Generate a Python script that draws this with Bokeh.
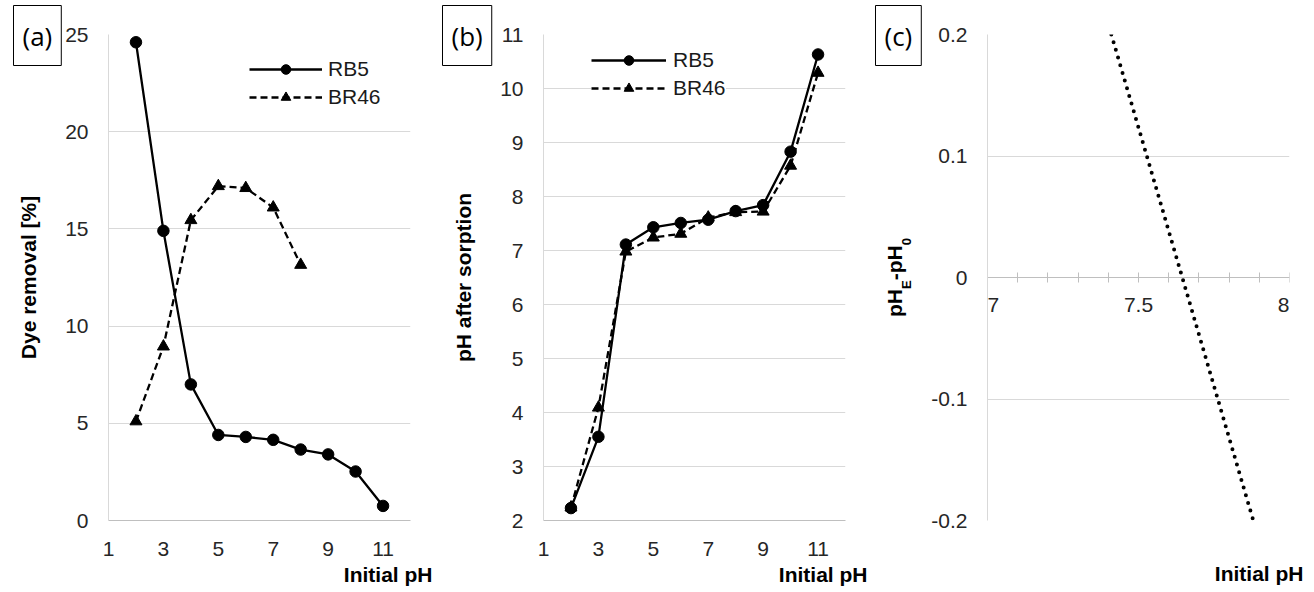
import math
from bokeh.plotting import figure
from bokeh.layouts import row
from bokeh.models import (Range1d, Label, Title, FixedTicker, NumeralTickFormatter,
                          LinearAxis, CustomJSTickFormatter)
from bokeh.embed import file_html
from bokeh.resources import INLINE

# ---------------- data ----------------
ph_initial = [2, 3, 4, 5, 6, 7, 8, 9, 10, 11]
rb5_removal = [24.6, 14.9, 7.0, 4.4, 4.3, 4.15, 3.65, 3.4, 2.52, 0.75]
br46_ph_initial = [2, 3, 4, 5, 6, 7, 8]
br46_removal = [5.1, 8.95, 15.45, 17.2, 17.1, 16.1, 13.15]

rb5_ph_after = [2.23, 3.55, 7.11, 7.43, 7.51, 7.57, 7.73, 7.84, 8.83, 10.63]
br46_ph_after = [2.24, 4.09, 6.98, 7.24, 7.31, 7.61, 7.71, 7.72, 8.57, 10.29]

pzc_ph = [7.41, 7.88]
pzc_diff = [0.2, -0.2]

x_ticks_ab = [1, 3, 5, 7, 9, 11]
y_ticks_a = [0, 5, 10, 15, 20, 25]
y_ticks_b = [2, 3, 4, 5, 6, 7, 8, 9, 10, 11]
x_ticks_c = [7, 7.5, 8]
x_tick_labels_c = ["7", "7.5", "8"]
x_minor_c = [7.1, 7.2, 7.3, 7.4, 7.6, 7.7, 7.8, 7.9]
y_ticks_c = [-0.2, -0.1, 0, 0.1, 0.2]

FONT = "Liberation Sans"
TICK_SIZE = "21px"
LABEL_SIZE = "21px"
GRID = "#d9d9d9"
AXIS = "#bfbfbf"
TICK_COLOR = "#262626"


def base_fig(x_range, y_range, left, right):
    p = figure(frame_width=302, frame_height=486,
               min_border_left=left, min_border_right=right,
               min_border_top=34, min_border_bottom=72,
               x_range=x_range, y_range=y_range,
               output_backend="svg", toolbar_location=None)
    p.outline_line_color = None
    p.background_fill_color = "white"
    p.border_fill_color = "white"
    p.xgrid.visible = False
    p.ygrid.grid_line_color = GRID
    p.ygrid.grid_line_width = 1
    for ax in (p.xaxis, p.yaxis):
        ax.major_label_text_font = FONT
        ax.major_label_text_font_size = TICK_SIZE
        ax.major_label_text_color = TICK_COLOR
        ax.major_tick_in = 0
        ax.major_tick_out = 0
        ax.minor_tick_in = 0
        ax.minor_tick_out = 0
        ax.axis_label_text_font = FONT
        ax.axis_label_text_font_size = LABEL_SIZE
        ax.axis_label_text_font_style = "bold"
        ax.axis_label_text_color = "black"
    p.xaxis.axis_line_color = AXIS
    p.yaxis.axis_line_color = GRID
    p.yaxis.major_label_standoff = 20
    p.xaxis.major_label_standoff = 21
    return p


def panel_tag(p, text, dx):
    p.add_layout(Title(text=text, align="left", offset=dx,
                       vertical_align="bottom", standoff=-62,
                       text_font="Open Sans", text_font_size="26px",
                       text_font_style="normal", text_color="black",
                       border_line_color="black", border_line_width=1,
                       background_fill_color="white",
                       padding=dict(left=9, right=9, top=12, bottom=12)), "above")


def x_title(p, dx):
    p.add_layout(Title(text="Initial pH", align="right", offset=dx,
                       vertical_align="bottom", standoff=5,
                       text_font=FONT, text_font_size=LABEL_SIZE,
                       text_font_style="bold", text_color="black"), "below")


def style_legend(p, loc, glyph_w, spacing, padding, standoff):
    lg = p.legend[0]
    lg.location = loc
    lg.margin = 0
    lg.padding = padding
    lg.spacing = spacing
    lg.glyph_width = glyph_w
    lg.glyph_height = 24
    lg.label_height = 24
    lg.label_standoff = standoff
    lg.border_line_color = None
    lg.background_fill_color = "white"
    lg.background_fill_alpha = 1
    lg.label_text_font = FONT
    lg.label_text_font_size = "21px"
    lg.label_text_color = "#1a1a1a"


def two_series(p, x1, y1, x2, y2):
    p.line(x1, y1, line_color="black", line_width=2.3, legend_label="RB5")
    p.scatter(x1, y1, marker="circle", size=11.5, fill_color="black",
              line_color="black", legend_label="RB5")
    p.line(x2, y2, line_color="black", line_width=2.3, line_dash="7 4",
           legend_label="BR46")
    p.scatter(x2, y2, marker="triangle", size=12, fill_color="black",
              line_color="black", legend_label="BR46")


# ---------------- panel (a) ----------------
pa = base_fig(Range1d(1, 12), Range1d(0, 25), 108, 30)
pa.xaxis.ticker = FixedTicker(ticks=x_ticks_ab)
pa.yaxis.ticker = FixedTicker(ticks=y_ticks_a)
pa.yaxis.axis_label = "Dye removal [%]"
pa.yaxis.axis_label_standoff = 22
two_series(pa, ph_initial, rb5_removal, br46_ph_initial, br46_removal)
style_legend(pa, (141, 411), 73, 4, 5, 6)
panel_tag(pa, "(a)", -95)
x_title(pa, -22)

# ---------------- panel (b) ----------------
pb = base_fig(Range1d(1, 12), Range1d(2, 11), 103, 30)
pb.xaxis.ticker = FixedTicker(ticks=x_ticks_ab)
pb.yaxis.ticker = FixedTicker(ticks=y_ticks_b)
pb.yaxis.axis_label = "pH after sorption"
pb.yaxis.axis_label_standoff = 22
two_series(pb, ph_initial, rb5_ph_after, ph_initial, br46_ph_after)
style_legend(pb, (48, 420), 75, 4, 12, 7)
panel_tag(pb, "(b)", -101)
x_title(pb, -22)

# ---------------- panel (c) ----------------
pc = base_fig(Range1d(7, 8), Range1d(-0.2, 0.2), 112, 23)
pc.yaxis.ticker = FixedTicker(ticks=y_ticks_c)
pc.yaxis.formatter = NumeralTickFormatter(format="0.[0]")
# bottom axis kept only as a blank spacer so the axis title sits like in (a)/(b)
pc.xaxis.axis_line_color = None
pc.xaxis.ticker = FixedTicker(ticks=[7.5])
pc.xaxis.formatter = CustomJSTickFormatter(code="return ' '")
pc.xaxis.major_label_standoff = 11
# zero-line axis with crossing ticks
zero_axis = LinearAxis(fixed_location=0,
                       ticker=FixedTicker(ticks=x_ticks_c, minor_ticks=x_minor_c),
                       formatter=CustomJSTickFormatter(code="return ''"),
                       axis_line_color=AXIS, major_tick_line_color=AXIS,
                       minor_tick_line_color=AXIS, major_tick_in=5, major_tick_out=5,
                       minor_tick_in=5, minor_tick_out=5)
pc.add_layout(zero_axis, "below")
pc.line(pzc_ph, pzc_diff, line_color="black", line_width=4, line_dash="0 8",
        line_cap="round")
aligns = ["left", "center", "right"]
for xv, lab, al in zip(x_ticks_c, x_tick_labels_c, aligns):
    pc.add_layout(Label(x=xv, y=0, text=lab, y_offset=-27, text_align=al,
                        text_baseline="alphabetic", text_font=FONT,
                        text_font_size=TICK_SIZE, text_color=TICK_COLOR))
panel_tag(pc, "(c)", -112)
x_title(pc, -14)

# rotated y title  pH_E - pH_0 built from two label-only axes
main_pos = [-0.021, 0.0121]
main_txt = ["pH", "-pH"]
sub_pos = [-0.0059, 0.0295]
sub_txt = ["E", "0"]


def text_axis(ticks, labels, size, standoff):
    ax = LinearAxis(ticker=FixedTicker(ticks=ticks, minor_ticks=[]),
                    formatter=CustomJSTickFormatter(args=dict(labels=labels),
                                                    code="return labels[index]"),
                    axis_line_color=None, major_tick_in=0, major_tick_out=0,
                    minor_tick_in=0, minor_tick_out=0,
                    major_label_orientation="vertical",
                    major_label_standoff=standoff,
                    major_label_text_font=FONT, major_label_text_font_size=size,
                    major_label_text_font_style="bold",
                    major_label_text_color="black")
    return ax


pc.add_layout(text_axis(sub_pos, sub_txt, "13px", 14), "left")
pc.add_layout(text_axis(main_pos, main_txt, "21px", -10), "left")

layout = row(pa, pb, pc)
open("out.html", "w").write(file_html(layout, INLINE))
